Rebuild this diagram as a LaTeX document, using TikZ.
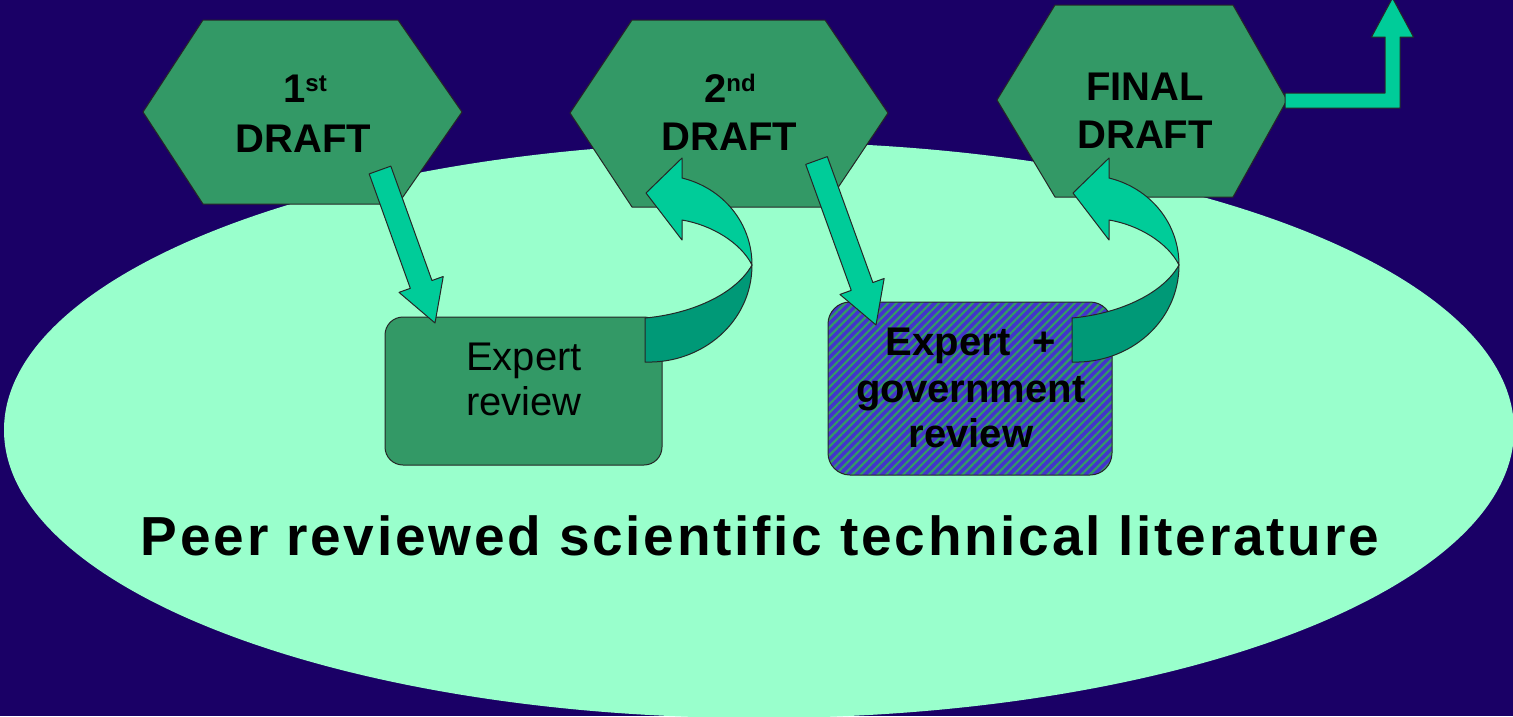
\documentclass[tikz,border=0pt]{standalone}
\usepackage{fontspec}
\setmainfont{Liberation Sans}
\newfontfamily\litfont{Liberation Sans}[LetterSpace=5]
\usetikzlibrary{calc,patterns.meta}
\definecolor{bg}{RGB}{26,0,102}
\definecolor{ell}{RGB}{153,255,204}
\definecolor{hexg}{RGB}{51,153,102}
\definecolor{arrg}{RGB}{0,204,153}
\definecolor{arrd}{RGB}{0,153,119}
\definecolor{hblue}{RGB}{68,51,204}
\newcommand\blockarrow[2]{%
  \draw[arr] ($(#1)!11.5pt!90:(#2)$)
    -- ($(#2)!41pt!(#1)!11.5pt!90:(#2)$)
    -- ($(#2)!41pt!(#1)!23.5pt!90:(#2)$)
    -- (#2)
    -- ($(#2)!41pt!(#1)!23.5pt!-90:(#2)$)
    -- ($(#2)!41pt!(#1)!11.5pt!-90:(#2)$)
    -- ($(#1)!11.5pt!-90:(#2)$) -- cycle;}
\tikzset{
  outl/.style={draw=black!85, line width=1pt, line join=round},
  hexa/.style={outl, fill=hexg},
  arr/.style={outl, fill=arrg},
  arrdark/.style={outl, fill=arrd},
  rbox/.style={outl, fill=hexg, rounded corners=18pt, inner sep=0pt},
  hbox/.style={outl, preaction={fill=hblue}, pattern={Lines[angle=45,distance=6pt,line width=2.2pt]}, pattern color=hexg, rounded corners=22pt, inner sep=0pt},
  hlbl/.style={anchor=base, inner sep=0pt, font=\fontsize{40}{44}\selectfont\bfseries},
  rlbl/.style={anchor=base, inner sep=0pt, font=\fontsize{40}{44}\selectfont},
  uturn/.pic={
    \draw[arrdark] (645,318) .. controls (690,314) and (735,295) .. (752,265)
      .. controls (752,322) and (702,364) .. (645,362) -- cycle;
    \draw[arr] (682,178) .. controls (723,188) and (752,223) .. (752,265)
      .. controls (741,243) and (712,225) .. (682,220) -- (682,240)
      -- (646,193) -- (682,158) -- cycle;
  }
}
\begin{document}
\begin{tikzpicture}[x=1pt,y=-1pt]
\useasboundingbox (0,0) rectangle (1513,716);
\clip (0,0) rectangle (1513,716);
\fill[bg] (0,0) rectangle (1513,716);
\fill[ell] (759,430) ellipse [x radius=755pt, y radius=288pt];
% hexagons
\draw[hexa] (143,112) -- (203,20) -- (398,20) -- (462,112) -- (398,204) -- (203,204) -- cycle;
\draw[hexa] (570,113) -- (632,20) -- (825,20) -- (888,113) -- (825,207) -- (632,207) -- cycle;
\draw[hexa] (997,100) -- (1055,5) -- (1233,5) -- (1287,100) -- (1233,197) -- (1055,197) -- cycle;
\node[hlbl] (d1a) at (305,102) {1\raisebox{11pt}{\fontsize{24}{24}\selectfont st}};
\node[hlbl] (d1b) at (303.5,152) {DRAFT};
\node[hlbl] (d2a) at (730,102) {2\raisebox{11pt}{\fontsize{24}{24}\selectfont nd}};
\node[hlbl] (d2b) at (729.5,150) {DRAFT};
\node[hlbl] (d3a) at (1145,100) {FINAL};
\node[hlbl] (d3b) at (1145,148) {DRAFT};
% review boxes
\node[rbox, minimum width=277pt, minimum height=148pt] (er) at (523.5,391) {};
\node[rlbl] (er1) at (524,370) {Expert};
\node[rlbl] (er2) at (524,415) {review};
\node[hbox, minimum width=284pt, minimum height=173pt] (gr) at (970,388.5) {};
\node[hlbl] (gr1) at (971,355) {Expert\ \ +};
\node[hlbl] (gr2) at (971,402) {government};
\node[hlbl] (gr3) at (971,447) {review};
% straight arrows
\coordinate (a1s) at (380,170);
\coordinate (a1e) at (435,323);
\coordinate (a2s) at (816.5,160.5);
\coordinate (a2e) at (876,325);
\blockarrow{a1s}{a1e}
\blockarrow{a2s}{a2e}
% curved arrows
\pic (u1) at (0,0) {uturn};
\pic (u2) at (427,0) {uturn};
% output arrow
\draw[arr] (1285,93) -- (1385,93) -- (1385,37) -- (1371.5,37) -- (1392.5,-2)
  -- (1413.5,37) -- (1400,37) -- (1400,108) -- (1285,108) -- cycle;
% literature
\node[anchor=base, inner sep=0pt, font=\litfont\fontsize{55}{60}\selectfont\bfseries] (lit) at (760,555) {Peer reviewed scientific technical literature};
\end{tikzpicture}
\end{document}
